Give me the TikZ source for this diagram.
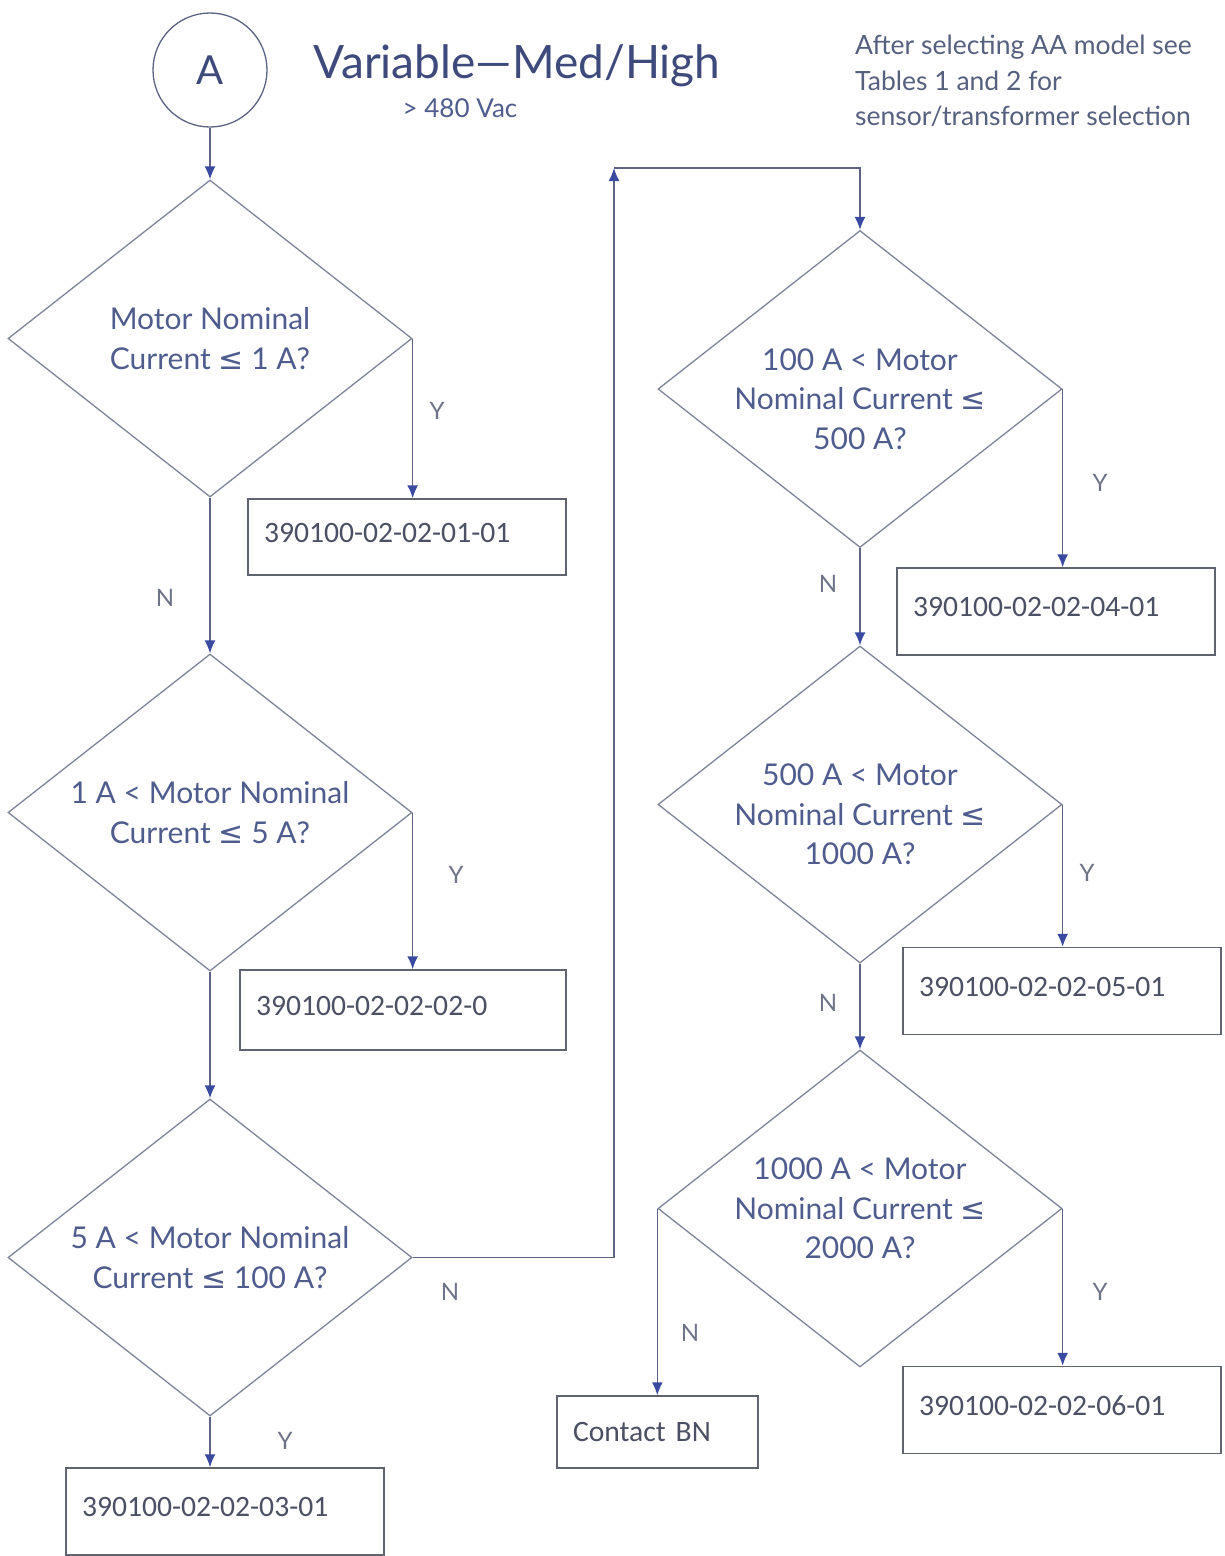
\documentclass[tikz,border=0pt]{standalone}
\usepackage{fontspec}
\setmainfont{Lato}
\newfontfamily\partfont{Carlito}
\newfontfamily\symfont{DejaVu Sans}
\usetikzlibrary{shapes.geometric, arrows.meta, positioning}

\definecolor{titleblue}{HTML}{3E4A7C}
\definecolor{asktext}{HTML}{4F5C8E}
\definecolor{notetext}{HTML}{56607F}
\definecolor{parttext}{HTML}{4C5064}
\definecolor{lbltext}{HTML}{6E7388}
\definecolor{diamondline}{HTML}{7F8598}
\definecolor{boxline}{HTML}{60646F}
\definecolor{flowline}{HTML}{5C6384}
\definecolor{tipblue}{HTML}{3A4AA0}

\newcommand{\leqsym}{{\symfont ≤}}
\newcommand{\topgap}{\rule{0pt}{42pt}}

\begin{document}
\begin{tikzpicture}[x=1pt, y=-1pt,
    decision/.style={diamond, draw=diamondline, line width=1.3pt, minimum width=404pt,
        minimum height=317pt, aspect=1.27, inner sep=0pt, align=center, text=asktext,
        font=\fontsize{30}{39.5}\selectfont},
    lowered/.style={inner ysep=-10pt},
    partbox/.style={rectangle, draw=boxline, line width=1.5pt, minimum height=87pt,
        text width=286pt, inner xsep=16pt, text depth=9pt, align=left, text=parttext,
        font=\partfont\fontsize{29.6}{34}\selectfont},
    yn/.style={text=lbltext, font=\fontsize{24}{28}\selectfont},
    flow/.style={draw=flowline, line width=1.5pt, -{Latex[length=13pt, width=11pt, color=tipblue]}}]

    \useasboundingbox[fill=white] (0,0) rectangle (1225,1556);

    \node[circle, draw=flowline, line width=1.3pt, minimum size=114pt, text=titleblue,
        font=\fontsize{40}{44}\selectfont] (start) at (210,70) {A};
    \node[text=titleblue, font=\fontsize{46}{50}\selectfont] (title) at (517,66) {Variable—Med/High};
    \node[text=asktext, font=\fontsize{26}{30}\selectfont] (volt) at (460,108) {> 480 Vac};
    \node[anchor=north west, align=left, text=notetext, inner sep=0pt,
        font=\fontsize{26.5}{35.5}\selectfont] (note) at (855,35)
        {After selecting AA model see\\Tables 1 and 2 for\\sensor/transformer selection};

    \node[decision] (d1) at (210,338.5) {Motor Nominal\\Current \leqsym{} 1 A?};
    \node[decision] (d2) at (210,812.5) {1 A < Motor Nominal\\Current \leqsym{} 5 A?};
    \node[decision] (d3) at (210,1257.5) {5 A < Motor Nominal\\Current \leqsym{} 100 A?};
    \node[decision, lowered] (d4) at (860,389) {\topgap100 A < Motor\\Nominal Current \leqsym\\500 A?};
    \node[decision, lowered] (d5) at (860,804.5) {\topgap500 A < Motor\\Nominal Current \leqsym\\1000 A?};
    \node[decision] (d6) at (860,1208.5) {1000 A < Motor\\Nominal Current \leqsym\\2000 A?};

    \node[partbox, minimum height=76pt] (p1) at (407,537) {390100-02-02-01-01};
    \node[partbox, minimum height=80pt, text width=294pt] (p2) at (403,1010) {390100-02-02-02-0};
    \node[partbox] (p3) at (225,1511.5) {390100-02-02-03-01};
    \node[partbox] (p4) at (1056,611.5) {390100-02-02-04-01};
    \node[partbox] (p5) at (1062,991) {390100-02-02-05-01};
    \node[partbox] (p6) at (1062,1410) {390100-02-02-06-01};
    \node[partbox, minimum height=72pt, text width=169pt, text depth=0pt] (bn) at (657.5,1432) {Contact BN};

    \coordinate (turn) at (614,168);

    \draw[flow] (start) -- (d1);
    \draw[flow] (d1.east) -- (d1.east |- p1.north);
    \draw[flow] (d1) -- (d2);
    \draw[flow] (d2.east) -- (d2.east |- p2.north);
    \draw[flow] (d2) -- (d3);
    \draw[flow] (d3.south) -- (d3.south |- p3.north);
    \draw[flow] (d3.east) -| (turn);
    \draw[flow] (turn) -| (d4.north);
    \draw[flow] (d4.east) -- (d4.east |- p4.north);
    \draw[flow] (d4) -- (d5);
    \draw[flow] (d5.east) -- (d5.east |- p5.north);
    \draw[flow] (d5) -- (d6);
    \draw[flow] (d6.east) -- (d6.east |- p6.north);
    \draw[flow] (d6.west) -- (d6.west |- bn.north);

    \node[yn] (y1) at (437,411) {Y};
    \node[yn] (n1) at (165,598) {N};
    \node[yn] (y2) at (456,875) {Y};
    \node[yn] (y3) at (285,1441) {Y};
    \node[yn] (n3) at (450,1292) {N};
    \node[yn] (y4) at (1100,483) {Y};
    \node[yn] (n4) at (828,584) {N};
    \node[yn] (y5) at (1087,873) {Y};
    \node[yn] (n5) at (828,1003) {N};
    \node[yn] (y6) at (1100,1292) {Y};
    \node[yn] (n6) at (690,1333) {N};
\end{tikzpicture}
\end{document}
